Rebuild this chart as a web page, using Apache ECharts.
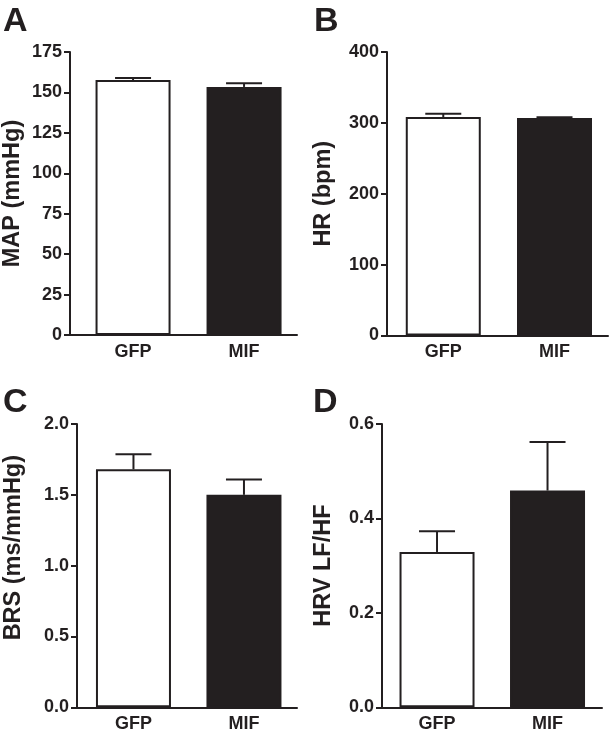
<!DOCTYPE html>
<html>
<head>
<meta charset="utf-8">
<script src="https://cdn.jsdelivr.net/npm/echarts@6/dist/echarts.min.js"></script>
<style>
html,body{margin:0;padding:0;background:#fff;}
#chart{width:610px;height:730px;}
</style>
</head>
<body>
<div id="chart"></div>
<script>
const categories = ['GFP', 'MIF'];
const mapMean = [157.7, 153.4];
const mapSem = [1.2, 2.2];
const hrMean = [308.3, 306.9];
const hrSem = [4.6, 1.0];
const brsMean = [1.68, 1.50];
const brsSem = [0.106, 0.108];
const lfhfMean = [0.329, 0.459];
const lfhfSem = [0.044, 0.103];
const panelLetters = ['A', 'B', 'C', 'D'];
const yNames = ['MAP (mmHg)', 'HR (bpm)', 'BRS (ms/mmHg)', 'HRV LF/HF'];

const INK = '#231f20';
const FONT = '"Liberation Sans", Arial, sans-serif';

const panels = [
  {mean: mapMean, sem: mapSem, grid: {left: 70, top: 52, width: 227, height: 283}, xmin: -0.568, xmax: 1.477, ymax: 175, yint: 25, dec: 0, gap: 45, pad: [0,0,0,0]},
  {mean: hrMean, sem: hrSem, grid: {left: 387, top: 52, width: 221, height: 283.5}, xmin: -0.506, xmax: 1.481, ymax: 400, yint: 100, dec: 0, gap: 51, pad: [0,0,0,0]},
  {mean: brsMean, sem: brsSem, grid: {left: 77, top: 424, width: 220, height: 283.3}, xmin: -0.511, xmax: 1.48, ymax: 2, yint: 0.5, dec: 1, gap: 51, pad: [0,0,0,36]},
  {mean: lfhfMean, sem: lfhfSem, grid: {left: 382, top: 424, width: 220, height: 283.3}, xmin: -0.498, xmax: 1.493, ymax: 0.6, yint: 0.2, dec: 1, gap: 46, pad: [0,0,0,0]}
];
const letterPos = [[3, 5], [314, 5], [3, 386], [313, 386]];

const grids = [], xAxes = [], yAxes = [], series = [], graphics = [];
panels.forEach((p, i) => {
  grids.push(Object.assign({containLabel: false, outerBoundsMode: 'none'}, p.grid));
  xAxes.push({
    type: 'value', gridIndex: i, min: p.xmin, max: p.xmax,
    splitLine: {show: false},
    axisLine: {show: true, onZero: false, lineStyle: {color: INK, width: 2}},
    axisTick: {show: false},
    axisLabel: {
      customValues: [0, 1],
      formatter: v => categories[Math.round(v)],
      color: INK, fontFamily: FONT, fontWeight: 'bold', fontSize: 18, margin: 8
    }
  });
  yAxes.push({
    type: 'value', gridIndex: i, min: 0, max: p.ymax, interval: p.yint,
    name: yNames[i], nameLocation: 'middle', nameGap: p.gap,
    nameTextStyle: {color: INK, fontFamily: FONT, fontWeight: 'bold', fontSize: 23.5, padding: p.pad},
    splitLine: {show: false},
    axisLine: {show: true, onZero: false, lineStyle: {color: INK, width: 2}},
    axisTick: {show: true, inside: false, length: 6, lineStyle: {color: INK, width: 2}},
    axisLabel: {
      inside: false,
      formatter: v => v.toFixed(p.dec),
      color: INK, fontFamily: FONT, fontWeight: 'bold', fontSize: 18, margin: 8
    }
  });
  series.push({
    type: 'bar', xAxisIndex: i, yAxisIndex: i, barWidth: 75,
    data: p.mean.map((v, k) => ({
      value: [k, v],
      itemStyle: k === 0
        ? {color: '#ffffff', borderColor: INK, borderWidth: 2}
        : {color: INK, borderColor: INK, borderWidth: 2}
    })),
    z: 2
  });
  series.push({
    type: 'custom', xAxisIndex: i, yAxisIndex: i, z: 3,
    data: p.mean.map((v, k) => [k, v, p.sem[k]]),
    renderItem: (params, api) => {
      const x = api.value(0), y = api.value(1), e = api.value(2);
      const base = api.coord([x, y]);
      const top = api.coord([x, y + e]);
      const half = 18;
      return {
        type: 'group',
        children: [
          {type: 'line', shape: {x1: base[0], y1: base[1], x2: top[0], y2: top[1]}, style: {stroke: INK, lineWidth: 2}},
          {type: 'line', shape: {x1: top[0] - half, y1: top[1], x2: top[0] + half, y2: top[1]}, style: {stroke: INK, lineWidth: 2}}
        ]
      };
    }
  });
  graphics.push({
    type: 'text', left: letterPos[i][0], top: letterPos[i][1],
    style: {text: panelLetters[i], fill: INK, font: 'bold 34px ' + FONT}
  });
});

const chart = echarts.init(document.getElementById('chart'), null, {renderer: 'canvas'});
chart.setOption({
  backgroundColor: '#ffffff',
  animation: false,
  grid: grids,
  xAxis: xAxes,
  yAxis: yAxes,
  series: series,
  graphic: graphics
});
</script>
</body>
</html>
